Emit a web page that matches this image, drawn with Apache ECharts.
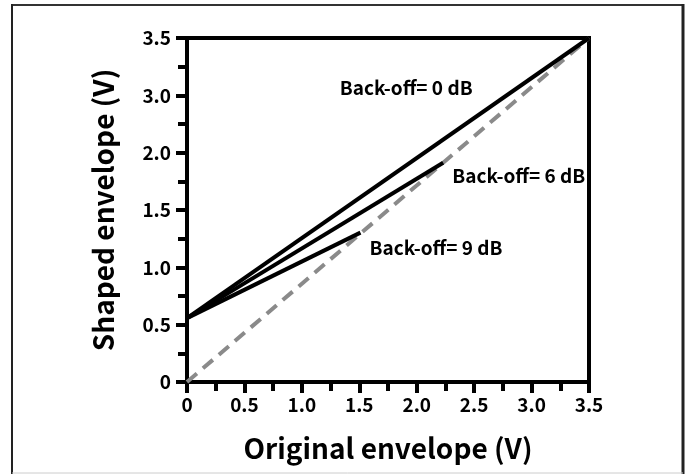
<!DOCTYPE html>
<html>
<head>
<meta charset="utf-8">
<script src="https://cdn.jsdelivr.net/npm/echarts@6/dist/echarts.min.js"></script>
<style>html,body{margin:0;padding:0;background:#fff}#c{width:688px;height:474px}</style>
</head>
<body>
<div id="c"></div>
<script>
// Data (true units, V)
var refLine = [[0, 0], [3.5, 3.5]];
var backoff0 = [[0, 0.65], [3.5, 3.5]];
var backoff6 = [[0, 0.65], [2.23, 2.23]];
var backoff9 = [[0, 0.65], [1.51, 1.52]];
var annotations = [
  [1.33, 2.99, 'Back-off= 0 dB'],
  [2.31, 2.10, 'Back-off= 6 dB'],
  [1.59, 1.37, 'Back-off= 9 dB']
];
var yTickLabels = ['0', '0.5', '1.0', '1.5', '2.0', '3.0', '3.5'];
var xTickLabels = ['0', '0.5', '1.0', '1.5', '2.0', '2.5', '3.0', '3.5'];

var FONT = 'Noto Sans CJK KR';
var yStep = 3.5 / 6;
var chart = echarts.init(document.getElementById('c'), null, {renderer: 'canvas'});
chart.setOption({
  animation: false,
  backgroundColor: '#fff',
  grid: {left: 187, right: 99, top: 38, bottom: 92, show: true, borderColor: '#000', borderWidth: 4, backgroundColor: 'transparent'},
  xAxis: {
    type: 'value', min: 0, max: 3.5, interval: 0.5,
    name: 'Original envelope (V)', nameLocation: 'middle', nameGap: 52,
    nameTextStyle: {fontFamily: FONT, fontWeight: 'bold', fontSize: 28, color: '#000'},
    axisLine: {show: true, lineStyle: {color: '#000', width: 4}},
    axisTick: {show: true, inside: false, length: 11, lineStyle: {color: '#000', width: 4}},
    minorTick: {show: true, splitNumber: 2, length: 9, lineStyle: {color: '#000', width: 4}},
    splitLine: {show: false},
    axisLabel: {margin: 13, fontFamily: FONT, fontWeight: 'bold', fontSize: 19, color: '#000',
      formatter: function (v) { return xTickLabels[Math.round(v / 0.5)]; }}
  },
  yAxis: {
    type: 'value', min: 0, max: 3.5, interval: yStep,
    name: 'Shaped envelope (V)', nameLocation: 'middle', nameGap: 70,
    nameTextStyle: {fontFamily: FONT, fontWeight: 'bold', fontSize: 28, color: '#000'},
    axisLine: {show: true, lineStyle: {color: '#000', width: 4}},
    axisTick: {show: true, inside: false, length: 11, lineStyle: {color: '#000', width: 4}},
    minorTick: {show: true, splitNumber: 2, length: 9, lineStyle: {color: '#000', width: 4}},
    splitLine: {show: false},
    axisLabel: {margin: 16, fontFamily: FONT, fontWeight: 'bold', fontSize: 19, color: '#000',
      formatter: function (v) { return yTickLabels[Math.round(v / yStep)]; }}
  },
  series: [
    {type: 'line', data: refLine, symbol: 'none', lineStyle: {color: '#8a8a8a', width: 4, type: [13, 8]}, z: 2},
    {type: 'line', data: backoff0, symbol: 'none', lineStyle: {color: '#000', width: 4}, z: 3},
    {type: 'line', data: backoff6, symbol: 'none', lineStyle: {color: '#000', width: 4}, z: 3},
    {type: 'line', data: backoff9, symbol: 'none', lineStyle: {color: '#000', width: 4}, z: 3},
    {type: 'scatter', data: annotations, symbolSize: 0, z: 4, silent: true,
      itemStyle: {opacity: 1, color: '#000'},
      label: {show: true, position: 'right', distance: 0, opacity: 1, fontFamily: FONT, fontWeight: 'bold', fontSize: 19, color: '#000',
        formatter: function (p) { return p.data[2]; }}}
  ],
  graphic: [
    {type: 'line', shape: {x1: 12, y1: 5, x2: 683, y2: 5}, style: {stroke: '#333', lineWidth: 2}},
    {type: 'line', shape: {x1: 12, y1: 4, x2: 12, y2: 474}, style: {stroke: '#222', lineWidth: 2}},
    {type: 'line', shape: {x1: 683, y1: 4, x2: 683, y2: 474}, style: {stroke: '#222', lineWidth: 3}},
    {type: 'line', shape: {x1: 12, y1: 473, x2: 683, y2: 473}, style: {stroke: '#ccc', lineWidth: 1}}
  ]
});
</script>
</body>
</html>
